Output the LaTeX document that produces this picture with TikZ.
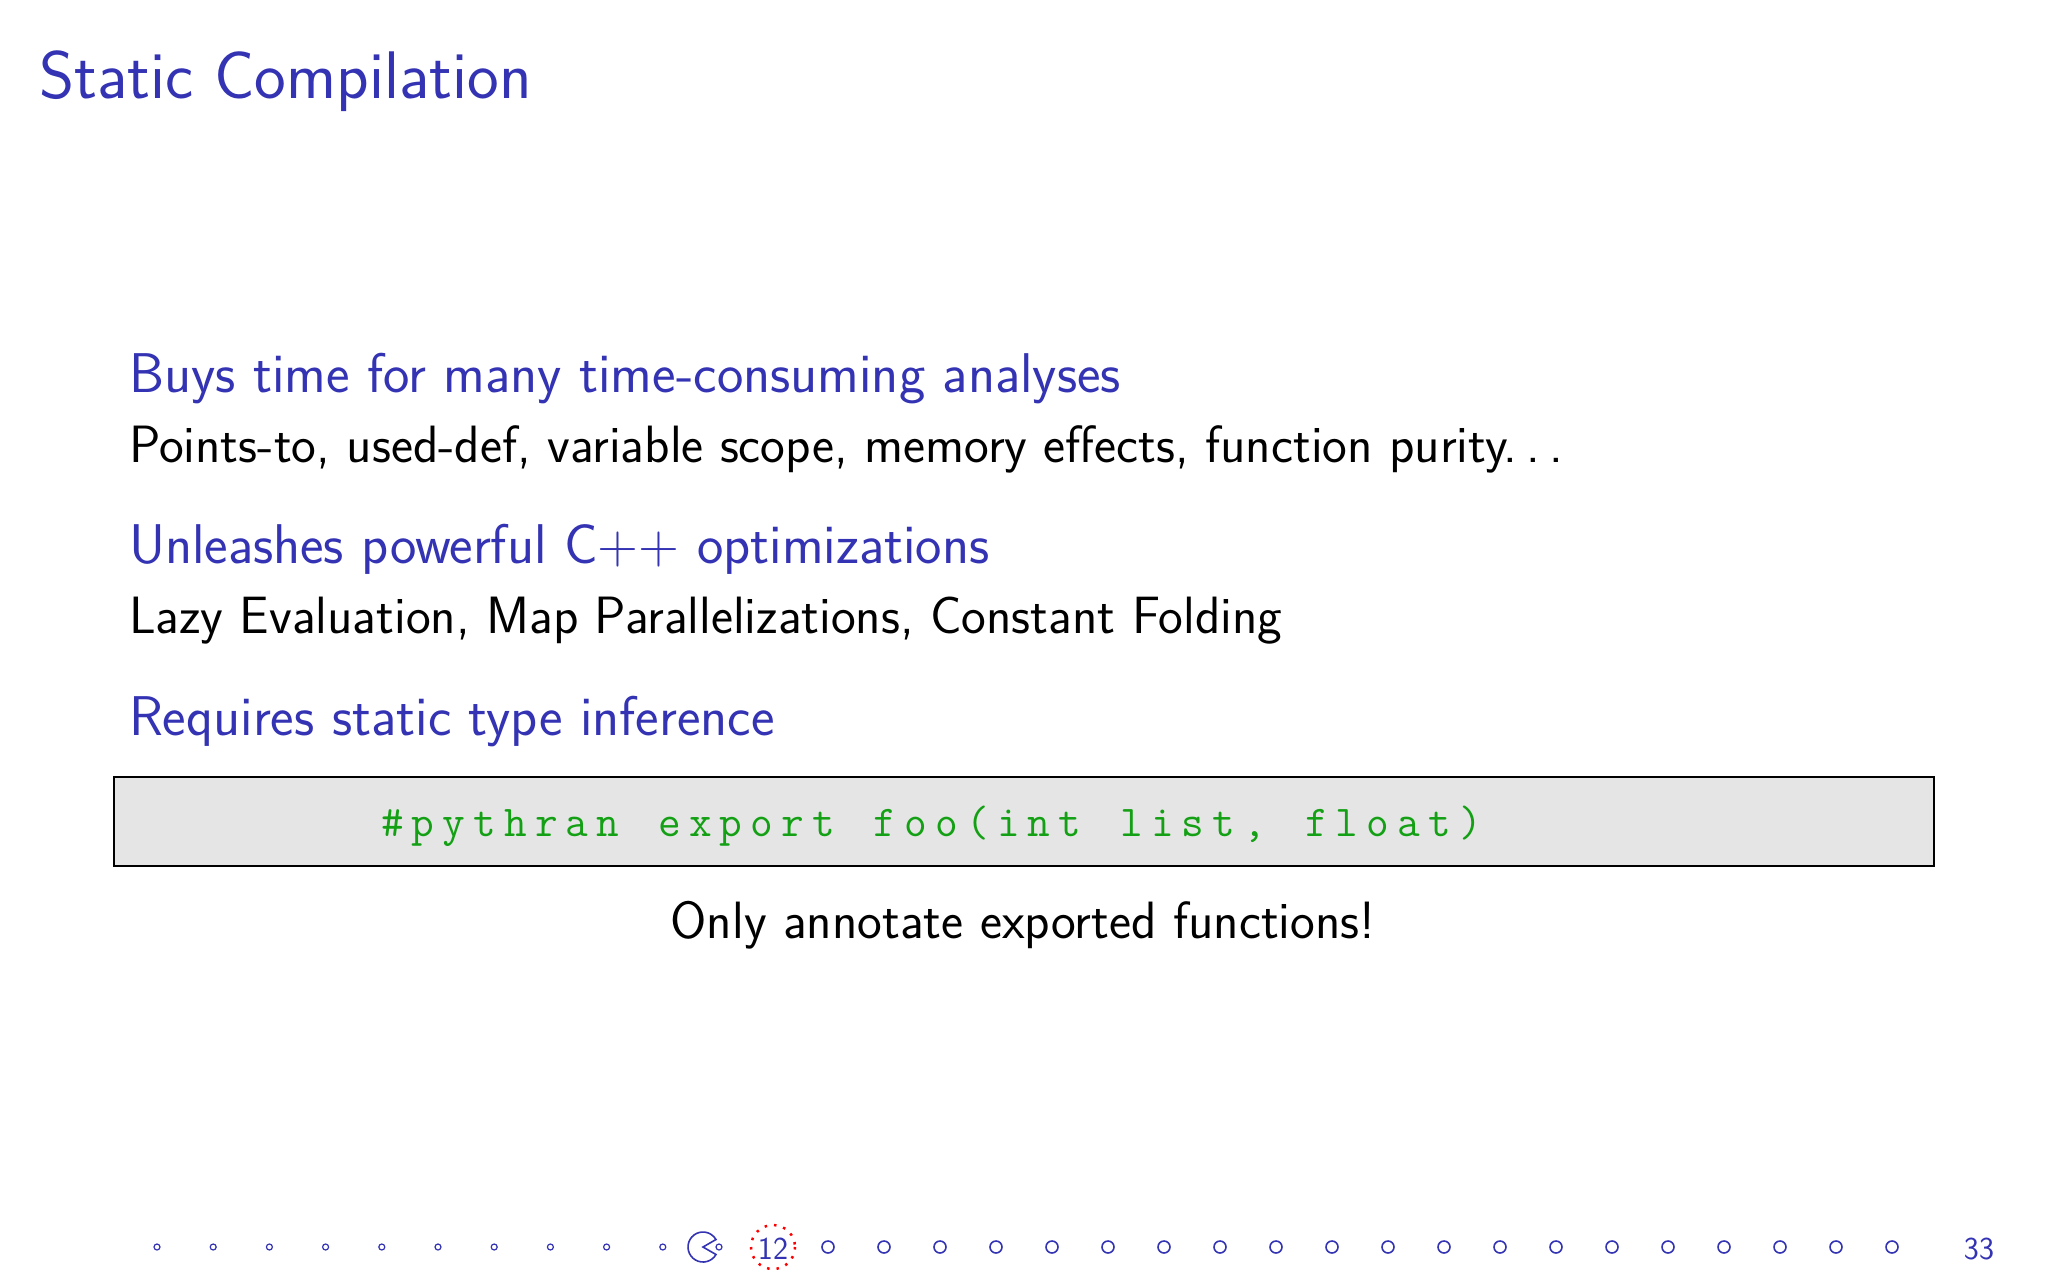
\documentclass[tikz,border=0pt]{standalone}
\usepackage{xcolor}
\definecolor{struct}{RGB}{51,51,179}
\definecolor{codegreen}{RGB}{20,160,20}
\newcommand\cchar[1]{\makebox[30.8pt][c]{#1}}
\begin{document}
\begin{tikzpicture}[x=1pt,y=-1pt,
  every node/.style={inner sep=0pt,outer sep=0pt},
  head/.style={anchor=base west,text=struct,font=\sffamily\fontsize{56}{66}\selectfont},
  body/.style={anchor=base west,text=black,font=\sffamily\fontsize{52.5}{62}\selectfont},
  code/.style={anchor=base west,text=codegreen,font=\ttfamily\fontsize{44}{52}\selectfont},
  navdot/.style={draw=struct,line width=1.6pt}]
\useasboundingbox[fill=white] (0,0) rectangle (2048,1280);
\node[anchor=base west,text=struct,font=\sffamily\fontsize{67.3}{80}\selectfont] (title) at (39,98) {Static Compilation};
\node[head] (h1) at (129,392) {Buys time for many time-consuming analyses};
\node[body] (b1) at (129,462) {Points-to, used-def, variable scope, memory effects, function purity.\kern0.18em.\kern0.18em.};
\node[head] (h2) at (129,563) {Unleashes powerful C++ optimizations};
\node[body] (b2) at (129,633) {Lazy Evaluation, Map Parallelizations, Constant Folding};
\node[head] (h3) at (129,735) {Requires static type inference};
\draw[fill=black!10,line width=1.3pt] (114,777) rectangle (1934,866);
\node[code] (code) at (377,836) {\cchar{\#}\cchar{p}\cchar{y}\cchar{t}\cchar{h}\cchar{r}\cchar{a}\cchar{n}\cchar{ }\cchar{e}\cchar{x}\cchar{p}\cchar{o}\cchar{r}\cchar{t}\cchar{ }\cchar{f}\cchar{o}\cchar{o}\cchar{(}\cchar{i}\cchar{n}\cchar{t}\cchar{ }\cchar{l}\cchar{i}\cchar{s}\cchar{t}\cchar{,}\cchar{ }\cchar{f}\cchar{l}\cchar{o}\cchar{a}\cchar{t}\cchar{)}};
\node[anchor=base,font=\sffamily\fontsize{52.5}{62}\selectfont] (note) at (1023,938) {Only annotate exported functions!};
% navigation
\foreach \k in {0,...,9} \draw[navdot,line width=1.2pt] ({157+56.2*\k},1247) circle (3);
\draw[navdot] (703,1247) ++(30:15) arc (30:330:15) -- (703,1247) -- cycle;
\draw[navdot,line width=1.2pt] (719,1247) circle (3);
\draw[red,line width=2.5pt,dash pattern=on 2.5pt off 7pt] (773,1247) circle (22);
\node[anchor=center,text=struct,font=\sffamily\fontsize{32}{38}\selectfont] (cur) at (773,1249) {12};
\foreach \k in {0,...,19} \draw[navdot] ({828+56.0*\k},1247) circle (6);
\node[anchor=center,text=struct,font=\sffamily\fontsize{32}{38}\selectfont] (tot) at (1979,1249) {33};
\end{tikzpicture}
\end{document}
